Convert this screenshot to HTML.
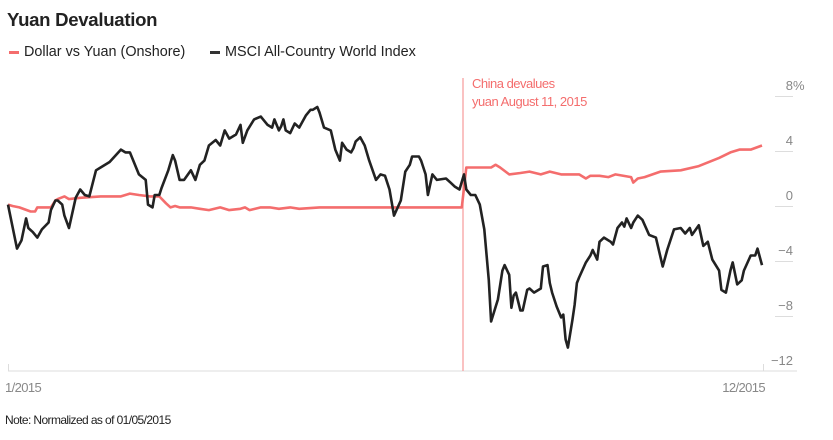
<!DOCTYPE html>
<html><head><meta charset="utf-8"><style>
html,body{margin:0;padding:0;background:#fff;width:833px;height:440px;overflow:hidden}
svg{display:block;font-family:"Liberation Sans",sans-serif}
</style></head><body>
<svg id="chart" width="833" height="440" viewBox="0 0 833 440">
<text x="7" y="26" font-size="18.6" font-weight="bold" fill="#222" letter-spacing="-0.3">Yuan Devaluation</text>
<g>
<rect x="9" y="51" width="10" height="3" fill="#f46d6d"/>
<text x="24" y="56" font-size="14.4" fill="#222">Dollar vs Yuan (Onshore)</text>
<rect x="210" y="51" width="10" height="3" fill="#333"/>
<text x="225" y="56" font-size="14.4" fill="#222">MSCI All-Country World Index</text>
</g>
<g id="grid"></g>
<line x1="8" y1="371" x2="797" y2="371" stroke="#ddd" stroke-width="1"/>
<line x1="8.5" y1="364" x2="8.5" y2="371" stroke="#ddd"/>
<line x1="763.5" y1="364" x2="763.5" y2="371" stroke="#ddd"/>
<text x="5" y="392" font-size="13" fill="#888" letter-spacing="-0.6">1/2015</text>
<text x="765" y="392" font-size="13" fill="#888" text-anchor="end" letter-spacing="-0.6">12/2015</text>
<line x1="463" y1="78" x2="463" y2="371" stroke="#f79a9a" stroke-width="1.2"/>
<text x="472" y="88" font-size="13" fill="#f46d6d" letter-spacing="-0.5">China devalues</text>
<text x="472" y="106" font-size="13" fill="#f46d6d" letter-spacing="-0.5">yuan August 11, 2015</text>
<g id="series"></g>
<text x="5" y="424" font-size="12" fill="#222" letter-spacing="-0.6">Note: Normalized as of 01/05/2015</text>
</svg>
<script>
const yTicks = [8, 4, 0, -4, -8, -12];
const msciDays = [0,4,6,8,9,11,13,15,18,19,21,22,24,25,27,30,32,34,36,39,41,45,50,52,54,56,58,61,62,64,65,67,68,71,73,74,76,78,81,83,85,87,89,92,94,96,98,101,103,104,106,109,112,113,115,117,118,120,121,122,123,125,127,129,132,134,135,137,138,140,143,145,147,148,150,152,153,154,156,158,160,163,165,167,169,171,174,176,178,179,182,183,185,186,188,190,194,196,198,200,202,203,205,207,209,211,213,214,217,219,220,222,223,224,225,227,228,230,231,233,236,237,239,240,241,243,245,246,247,248,250,251,252,253,256,258,259,261,262,264,267,268,270,272,273,274,276,277,279,281,284,287,290,292,295,298,300,302,303,306,308,310,312,315,316,318,320,321,323,325,326,329,331,332,334];
const msciValues = [0.1,-3.1,-2.5,-0.9,-1.6,-1.9,-2.3,-1.7,-1.2,-0.3,0.4,0.4,0.1,-0.7,-1.6,0.6,1.2,0.8,0.7,2.6,2.8,3.2,4.1,3.9,3.9,3.1,2.3,1.9,0.1,-0.1,0.8,0.8,1.3,2.6,3.7,3.3,1.9,1.9,2.6,1.9,3.0,3.3,4.4,4.8,4.4,5.5,4.9,5.2,5.9,4.6,5.5,6.3,6.5,6.3,5.9,5.7,6.3,5.5,5.8,6.3,5.5,5.3,6.0,5.7,6.6,7.0,7.0,7.2,6.8,5.7,5.5,4.1,3.3,4.6,4.1,3.9,4.2,4.7,5.0,4.4,3.3,1.9,2.3,2.2,1.2,-0.7,0.4,2.5,3.0,3.6,3.6,3.3,2.3,0.8,2.3,1.9,2.0,1.7,1.4,1.2,2.3,1.2,0.8,0.8,0.1,-1.7,-5.4,-8.4,-6.8,-4.7,-4.3,-5.0,-7.4,-6.5,-6.3,-7.6,-7.6,-6.1,-6.0,-6.3,-6.0,-4.4,-4.3,-5.6,-6.3,-7.3,-8.1,-7.9,-9.7,-10.3,-8.3,-7.2,-5.6,-5.2,-4.1,-3.6,-3.2,-3.9,-2.6,-2.3,-2.6,-2.8,-1.6,-1.2,-1.5,-0.9,-1.6,-1.2,-0.7,-1.0,-2.1,-2.3,-4.4,-3.2,-1.7,-1.6,-2.0,-1.6,-2.1,-1.4,-2.9,-2.6,-3.9,-4.7,-6.1,-6.3,-4.7,-4.1,-5.7,-5.4,-4.7,-3.6,-3.6,-3.1,-4.3];
const yuanDays = [0,2,5,10,12,13,16,19,21,22,25,27,32,41,50,52,54,58,63,67,70,72,74,76,81,85,89,94,98,103,105,107,112,116,120,125,129,138,147,165,174,201,203,207,214,216,218,222,227,231,236,240,245,249,253,256,258,262,266,269,276,277,279,282,289,298,306,315,320,324,329,334];
const yuanValues = [0.1,0,-0.1,-0.4,-0.4,-0.1,-0.1,-0.1,0.4,0.5,0.7,0.5,0.6,0.7,0.7,0.8,0.9,0.8,0.7,0.7,0.2,-0.1,0,-0.1,-0.1,-0.2,-0.3,-0.1,-0.3,-0.2,-0.1,-0.3,-0.1,-0.1,-0.2,-0.1,-0.2,-0.1,-0.1,-0.1,-0.1,-0.1,2.8,2.8,2.8,3.0,2.8,2.3,2.4,2.5,2.3,2.5,2.3,2.3,2.3,2.0,2.2,2.2,2.1,2.3,2.1,1.7,2.0,2.1,2.5,2.6,2.9,3.5,3.9,4.1,4.1,4.4];

const NS = "http://www.w3.org/2000/svg";
const xScale = d => 8 + d * (754 / 334);
const yScale = v => 206 - v * 13.75;

const grid = document.getElementById('grid');
yTicks.forEach(t => {
  const y = yScale(t);
  if (t !== -12) {
    const l = document.createElementNS(NS, 'line');
    
    
    l.setAttribute('x1', 775); l.setAttribute('x2', 793);
    l.setAttribute('y1', y + 0.5); l.setAttribute('y2', y + 0.5);
    l.setAttribute('stroke', '#ddd');
    grid.appendChild(l);
  }
  const tx = document.createElementNS(NS, 'text');
  
  
  tx.setAttribute('x', 793);
  tx.setAttribute('y', y - 6);
  tx.setAttribute('font-size', '13');
  tx.setAttribute('fill', '#888');
  tx.setAttribute('text-anchor', 'end');
  tx.textContent = t < 0 ? '\u2212' + Math.abs(t) : String(t);
  grid.appendChild(tx);
  if (t === 8) {
    const p = document.createElementNS(NS, 'text');
    
    
    p.setAttribute('x', 793); p.setAttribute('y', y - 6);
    p.setAttribute('font-size', '13'); p.setAttribute('fill', '#888');
    p.textContent = '%';
    grid.appendChild(p);
  }
});

const series = document.getElementById('series');
function drawLine(days, vals, color, name) {
  const d = days.map((dd, i) => (i ? 'L' : 'M') + xScale(dd).toFixed(1) + ',' + yScale(vals[i]).toFixed(1)).join('');
  const p = document.createElementNS(NS, 'path');
  
  
  p.setAttribute('d', d);
  p.setAttribute('fill', 'none');
  p.setAttribute('stroke', color);
  p.setAttribute('stroke-width', '2.6');
  p.setAttribute('stroke-linejoin', 'round');
  series.appendChild(p);
}
drawLine(yuanDays, yuanValues, '#f46d6d', 'yuan-line');
drawLine(msciDays, msciValues, '#222', 'msci-line');
</script>
</body></html>
